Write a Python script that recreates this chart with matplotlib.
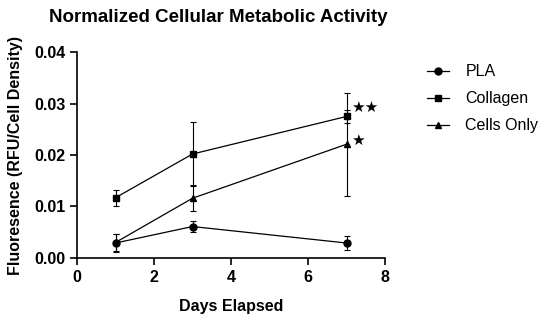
import numpy as np
import matplotlib.pyplot as plt
from matplotlib.lines import Line2D

plt.rcParams['font.family'] = ['Liberation Sans', 'DejaVu Sans']
plt.rcParams['font.weight'] = 'bold'

# Data
days = [1, 3, 7]
pla = [0.0029, 0.0061, 0.0029]
pla_err = [0.0017, 0.0010, 0.0013]
collagen = [0.0117, 0.0202, 0.0275]
collagen_err = [0.0016, 0.0063, 0.0013]
cells = [0.0030, 0.0116, 0.0221]
cells_err = [0.0017, 0.0025, 0.0100]

fig = plt.figure(figsize=(5.5, 3.22), dpi=100)
ax = fig.add_axes([0.14, 0.199, 0.56, 0.639])

kw = dict(color='black', lw=0.9, capsize=2.5, elinewidth=0.8, capthick=0.8, ms=5)
ax.errorbar(days, pla, yerr=pla_err, marker='o', **kw)
ax.errorbar(days, collagen, yerr=collagen_err, marker='s', **kw)
ax.errorbar(days, cells, yerr=cells_err, marker='^', **kw)

# significance stars
ax.text(days[2] + 0.12, collagen[2] + 0.0017, '★★', fontsize=11, va='center', ha='left',
        family=['DejaVu Sans'])
ax.text(days[2] + 0.12, cells[2] + 0.0008, '★', fontsize=11, va='center', ha='left',
        family=['DejaVu Sans'])

ax.set_xlim(0, 8)
ax.set_ylim(0, 0.04)
ax.set_xticks([0, 2, 4, 6, 8])
ax.set_yticks([0, 0.01, 0.02, 0.03, 0.04])
ax.set_yticklabels(['0.00', '0.01', '0.02', '0.03', '0.04'])
ax.tick_params(labelsize=11.5, width=1.2, length=5)
for s in ['top', 'right']:
    ax.spines[s].set_visible(False)
for s in ['left', 'bottom']:
    ax.spines[s].set_linewidth(1.2)

ax.set_xlabel('Days Elapsed', fontsize=11.5, fontweight='bold', labelpad=10)
ax.set_ylabel('Fluoresence (RFU/Cell Density)', fontsize=11.5, fontweight='bold', labelpad=8)
ax.set_title('Normalized Cellular Metabolic Activity', fontsize=13.5, fontweight='bold',
             pad=22, x=0.46)

handles = [Line2D([], [], color='black', lw=0.9, marker=m, ms=5) for m in ['o', 's', '^']]
ax.legend(handles, ['PLA', 'Collagen', 'Cells Only'], loc='upper left',
          bbox_to_anchor=(1.09, 1.01), frameon=False, handlelength=1.4, handletextpad=1.0,
          labelspacing=0.75, prop={'weight': 'normal', 'size': 11.5})

fig.savefig('out.png', dpi=100)
